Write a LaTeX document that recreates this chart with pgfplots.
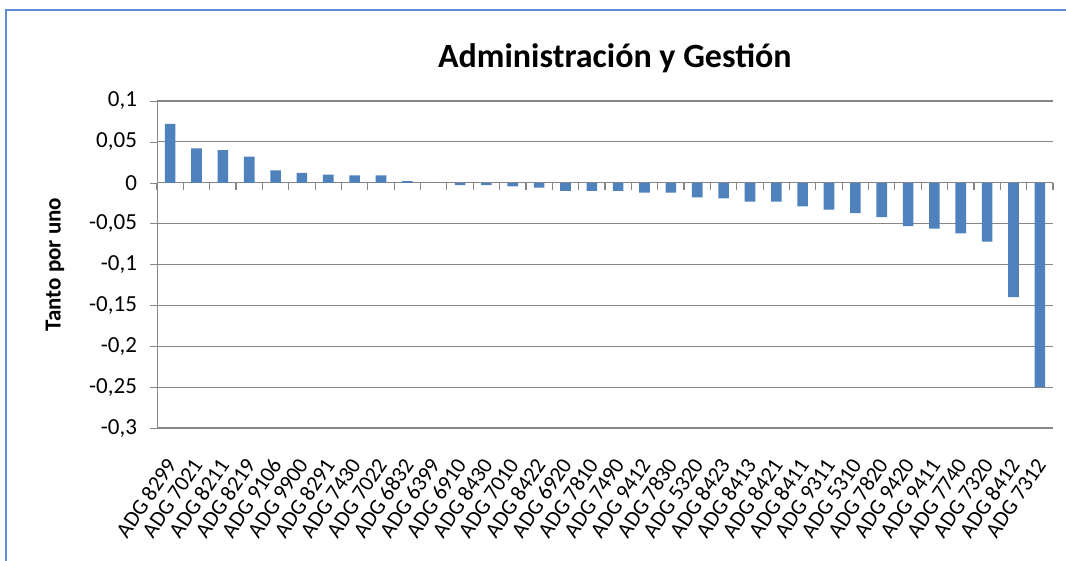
\documentclass[border=0pt]{standalone}
\usepackage{pgfplots}
\pgfplotsset{compat=1.18}
\usepackage{fontspec}
\setmainfont{Carlito}
\definecolor{barblue}{HTML}{4F81BD}
\definecolor{gridgray}{HTML}{868686}
\definecolor{frameblue}{HTML}{5B8ED6}

\begin{document}
\begin{tikzpicture}
\begin{axis}[
    scale only axis,
    width=448pt, height=163.5pt,
    xmin=-0.5, xmax=33.5,
    ymin=-0.3, ymax=0.1,
    clip=false,
    axis y line*=left,
    axis x line*=bottom,
    x axis line style={draw=none},
    y axis line style={gridgray},
    ytick={-0.3,-0.25,-0.2,-0.15,-0.1,-0.05,0,0.05,0.1},
    yticklabel style={
        /pgf/number format/fixed,
        /pgf/number format/use comma,
        /pgf/number format/precision=2,
        /pgf/number format/assume math mode=true,
        font=\fontsize{11.5}{13}\selectfont,
        xshift=-3pt,
    },
    ytick style={gridgray},
    major tick length=3.5pt,
    tick align=outside,
    ymajorgrids,
    grid style={gridgray, line width=0.6pt},
    xtick={0,...,33},
    xticklabels={ADG 8299, ADG 7021, ADG 8211, ADG 8219, ADG 9106, ADG 9900,
        ADG 8291, ADG 7430, ADG 7022, ADG 6832, ADG 6399, ADG 6910, ADG 8430,
        ADG 7010, ADG 8422, ADG 6920, ADG 7810, ADG 7490, ADG 9412, ADG 7830,
        ADG 5320, ADG 8423, ADG 8413, ADG 8421, ADG 8411, ADG 9311, ADG 5310,
        ADG 7820, ADG 9420, ADG 9411, ADG 7740, ADG 7320, ADG 8412, ADG 7312},
    xtick style={draw=none},
    xticklabel style={xshift=2.5pt, yshift=-10pt, rotate=56, anchor=east,
        font=\fontsize{11}{13}\selectfont},
]
\addplot[ybar, bar width=5.3pt, fill=barblue, draw=none] coordinates {
    (0,0.072) (1,0.042) (2,0.040) (3,0.032) (4,0.015) (5,0.012)
    (6,0.010) (7,0.009) (8,0.009) (9,0.002) (10,0) (11,-0.003)
    (12,-0.003) (13,-0.0045) (14,-0.006) (15,-0.010) (16,-0.010) (17,-0.010)
    (18,-0.012) (19,-0.012) (20,-0.018) (21,-0.019) (22,-0.023) (23,-0.023)
    (24,-0.029) (25,-0.033) (26,-0.037) (27,-0.042) (28,-0.053) (29,-0.056)
    (30,-0.062) (31,-0.072) (32,-0.140) (33,-0.250)
};
% category boundary ticks on the zero line
\pgfplotsinvokeforeach{-0.5,0.5,...,33.5}{
    \draw[gridgray, line width=0.6pt] (axis cs:#1,0) -- ([yshift=-3.5pt]axis cs:#1,0);
}
\node[font=\bfseries\fontsize{17}{20}\selectfont] at (rel axis cs:0.511,1.131) {Administración y Gestión};
\node[rotate=90, font=\bfseries\fontsize{11.5}{13}\selectfont] at (rel axis cs:-0.1138,0.5) {Tanto por uno};
\coordinate (bl) at (rel axis cs:-0.1752,-0.4067);
\coordinate (tr) at (rel axis cs:1.0145,1.3089);
\coordinate (fl) at (rel axis cs:-0.1685,1.2783);
\coordinate (fr) at (rel axis cs:1.06,-0.5);
\end{axis}
\pgfresetboundingbox
\useasboundingbox (bl) rectangle (tr);
\draw[frameblue, line width=1.2pt] (fl) rectangle (fr);
\end{tikzpicture}
\end{document}
